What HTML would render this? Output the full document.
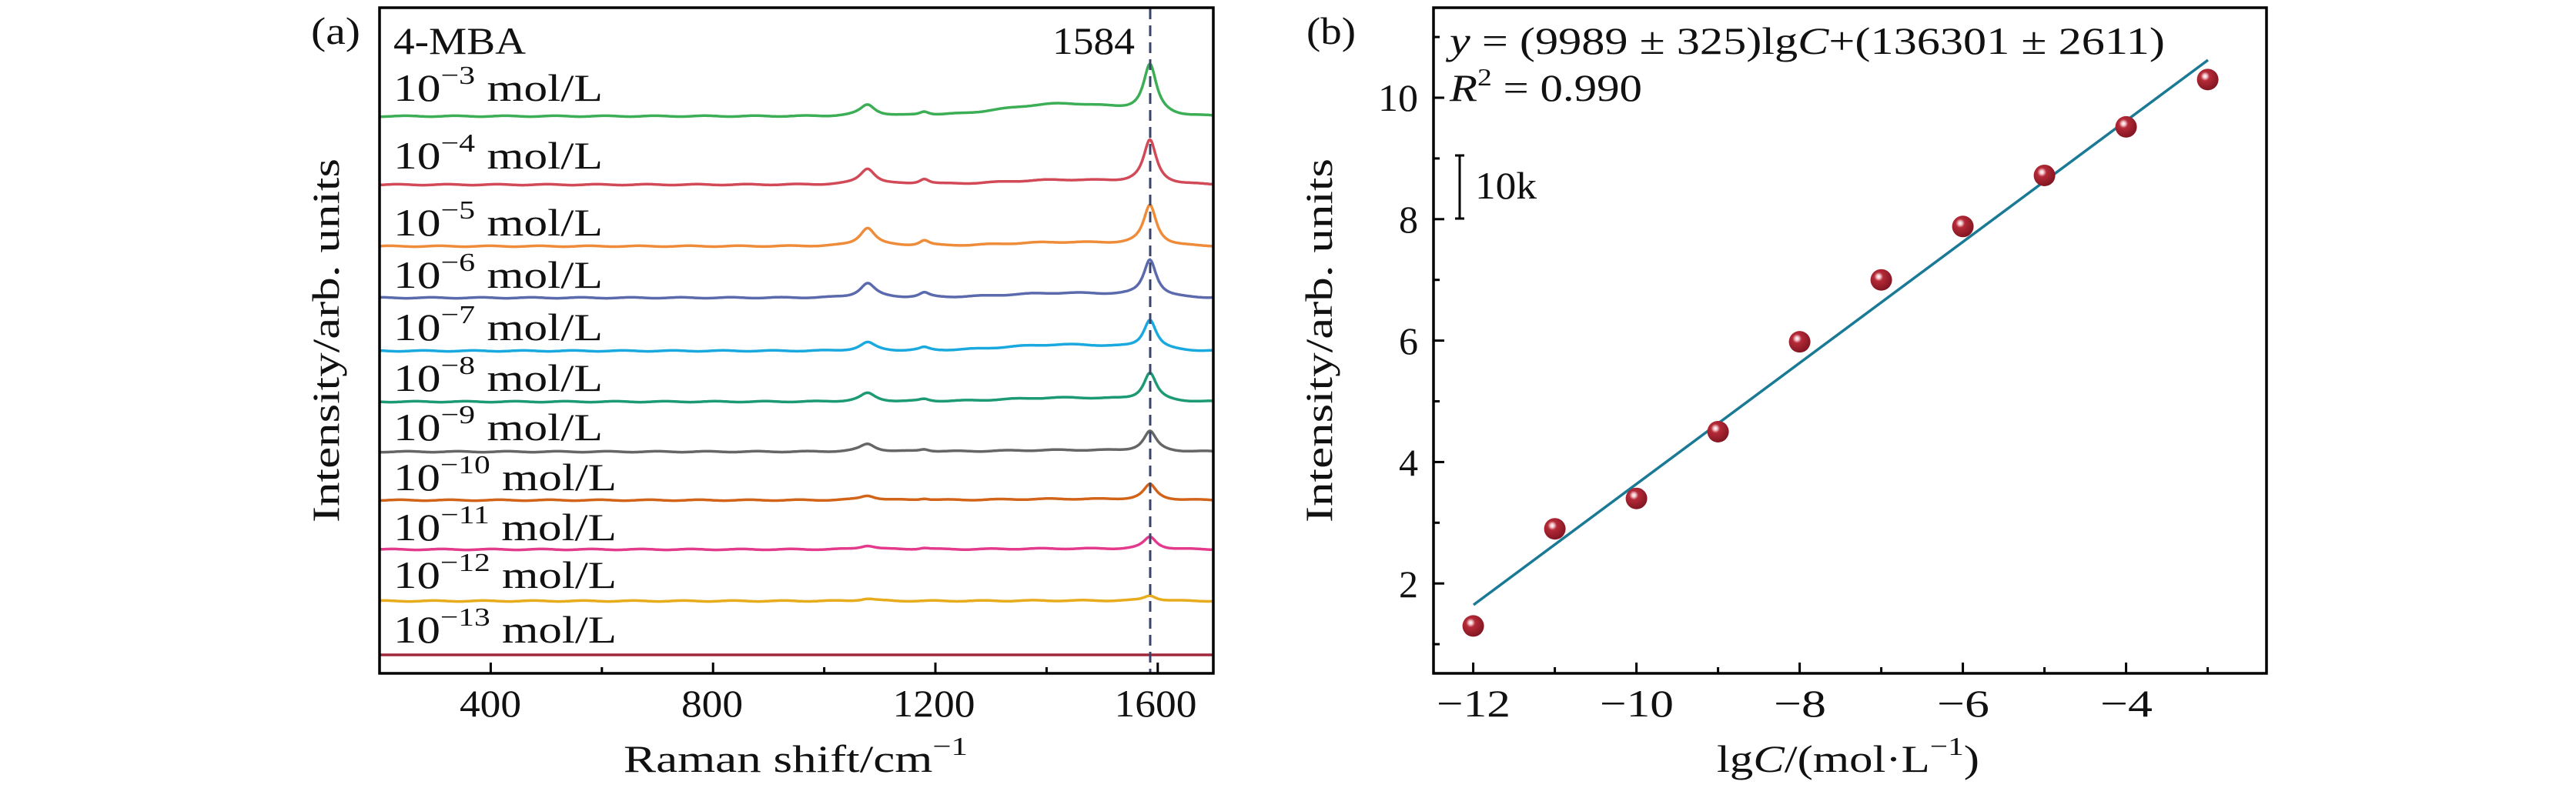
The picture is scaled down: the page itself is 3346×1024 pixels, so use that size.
<!DOCTYPE html>
<html><head><meta charset="utf-8">
<style>
html,body{margin:0;padding:0;background:#fff;}
svg{display:block;}
text{font-family:"Liberation Serif","DejaVu Serif",serif;fill:#111;}
</style></head>
<body>
<svg id="s" width="3346" height="1024" viewBox="0 0 3346 1024" xmlns="http://www.w3.org/2000/svg">
<defs>
<radialGradient id="ball" cx="0.38" cy="0.35" r="0.7">
<stop offset="0" stop-color="#ffffff"/>
<stop offset="0.12" stop-color="#f3c9cf"/>
<stop offset="0.3" stop-color="#b52a38"/>
<stop offset="1" stop-color="#7d1420"/>
</radialGradient>
</defs>
<g id="spec"></g>
<line x1="1494" y1="11" x2="1494" y2="874" stroke="#3a4468" stroke-width="3" stroke-dasharray="14,8"/>
<rect x="493" y="10" width="1083" height="865" fill="none" stroke="#000" stroke-width="3.5"/>
<g id="ticksA" stroke="#000" stroke-width="3"></g>
<g font-size="50" text-anchor="middle">
<text x="637" y="931" textLength="80" lengthAdjust="spacingAndGlyphs">400</text>
<text x="925" y="931" textLength="80" lengthAdjust="spacingAndGlyphs">800</text>
<text x="1213" y="931" textLength="107" lengthAdjust="spacingAndGlyphs">1200</text>
<text x="1501" y="931" textLength="107" lengthAdjust="spacingAndGlyphs">1600</text>
</g>
<text x="810" y="1003" font-size="50" textLength="447" lengthAdjust="spacingAndGlyphs">Raman shift/cm<tspan font-size="34" dy="-22">−1</tspan></text>
<text transform="translate(440,679) rotate(-90)" font-size="50" textLength="473" lengthAdjust="spacingAndGlyphs">Intensity/arb. units</text>
<text x="404" y="57" font-size="50" textLength="64" lengthAdjust="spacingAndGlyphs">(a)</text>
<text x="511" y="70" font-size="50" textLength="172" lengthAdjust="spacingAndGlyphs">4-MBA</text>
<text x="1367" y="70" font-size="50" textLength="107" lengthAdjust="spacingAndGlyphs">1584</text>
<g id="labs" font-size="50"></g>

<rect x="1862" y="10" width="1082" height="865" fill="none" stroke="#000" stroke-width="3.5"/>
<g id="ticksB" stroke="#000" stroke-width="3"></g>
<g font-size="50" text-anchor="middle">
<text x="1914" y="931" textLength="96" lengthAdjust="spacingAndGlyphs">−12</text>
<text x="2126" y="931" textLength="96" lengthAdjust="spacingAndGlyphs">−10</text>
<text x="2338" y="931" textLength="68" lengthAdjust="spacingAndGlyphs">−8</text>
<text x="2550" y="931" textLength="68" lengthAdjust="spacingAndGlyphs">−6</text>
<text x="2762" y="931" textLength="68" lengthAdjust="spacingAndGlyphs">−4</text>
</g>
<g font-size="50" text-anchor="end">
<text x="1842" y="144" textLength="52" lengthAdjust="spacingAndGlyphs">10</text>
<text x="1842" y="302">8</text>
<text x="1842" y="460">6</text>
<text x="1842" y="618">4</text>
<text x="1842" y="776">2</text>
</g>
<text x="2230" y="1003" font-size="50" textLength="341" lengthAdjust="spacingAndGlyphs">lg<tspan font-style="italic">C</tspan>/(mol·L<tspan font-size="34" dy="-22">−1</tspan><tspan dy="22">)</tspan></text>
<text transform="translate(1730,679) rotate(-90)" font-size="50" textLength="473" lengthAdjust="spacingAndGlyphs">Intensity/arb. units</text>
<text x="1697" y="57" font-size="50" textLength="64" lengthAdjust="spacingAndGlyphs">(b)</text>
<text x="1883" y="70" font-size="50" textLength="929" lengthAdjust="spacingAndGlyphs"><tspan font-style="italic">y</tspan> = (9989 ± 325)lg<tspan font-style="italic">C</tspan>+(136301 ± 2611)</text>
<text x="1883" y="131" font-size="50" textLength="250" lengthAdjust="spacingAndGlyphs"><tspan font-style="italic">R</tspan><tspan font-size="32" dy="-20">2</tspan><tspan dy="20"> = 0.990</tspan></text>
<g stroke="#000" stroke-width="3">
<line x1="1896" y1="201" x2="1896" y2="285"/>
<line x1="1890" y1="202" x2="1902" y2="202"/>
<line x1="1890" y1="284" x2="1902" y2="284"/>
</g>
<text x="1916" y="258" font-size="50" textLength="80" lengthAdjust="spacingAndGlyphs">10k</text>
<line x1="1914" y1="786" x2="2868" y2="78" stroke="#1a7a96" stroke-width="3.5"/>
<g id="pts"></g>
</svg>
<script>
var NS="http://www.w3.org/2000/svg";
function el(t,a,p){var e=document.createElementNS(NS,t);for(var k in a)e.setAttribute(k,a[k]);p.appendChild(e);return e;}
var tA=document.getElementById('ticksA');
function xa(v){return 493+(v-200)*0.722;}
for(var v=200;v<=1700;v+=200){var x=xa(v);var L=(v%400==0)?14:8;el('line',{x1:x,y1:875,x2:x,y2:875-L},tA);}
var S=[
["#3cae55",151,62,15,5,16],["#d24a57",240,56,21,7,6],["#ef8c3a",320,52,24,7,5],
["#5b6aad",387,48,19,6,6],["#1aa9df",456,38,11,4,8],["#1b9a74",522,36,11,3,5],
["#666666",587,26,10,3,2],["#d2641a",650,20,6,2,1.5],["#e33a8c",714,16,5,2,1],
["#e6ac1c",781,7,3,0,0.5],["#a0283a",851,0,0,0,0]];
var g=document.getElementById('spec');
function lor(x,c,w){return 1/(1+Math.pow((x-c)/w,2));}
S.forEach(function(s,i){var d="";for(var v=200;v<=1700;v+=2){
var bump=s[5]*Math.exp(-Math.pow((v-1430)/150,2))*(v<1590?1:Math.exp(-Math.pow((v-1590)/50,2)));
var y=s[1]-s[2]*lor(v,1586,14)-s[3]*lor(v,1078,17)-s[4]*lor(v,1180,11)-bump+(s[2]>0?0.6*Math.sin(v*0.07+i):0);
d+=(d?"L":"M")+xa(v).toFixed(1)+","+y.toFixed(1);}
el('path',{d:d,fill:"none",stroke:s[0],"stroke-width":3.5},g);});
var lb=document.getElementById('labs');
var ys=[131,219,306,374,442,508,572,637,702,764,835];
ys.forEach(function(y,i){var n=i+3;var t=el('text',{x:511,y:y,textLength:(n<10?272:290),lengthAdjust:"spacingAndGlyphs"},lb);t.appendChild(document.createTextNode("10"));
var s1=el('tspan',{"font-size":34,dy:-22},t);s1.textContent="−"+n;
var s2=el('tspan',{dy:22},t);s2.textContent=" mol/L";});
var tB=document.getElementById('ticksB');
function xb(v){return 1913.6+(v+12)*106;}
function yb(v){return 127+(10-v)*78.9;}
for(var v=-12;v<=-3;v++){var x=xb(v);var L=(v%2==0)?14:8;el('line',{x1:x,y1:875,x2:x,y2:875-L},tB);}
for(var v=1;v<=11;v++){var y=yb(v);var L=(v%2==0)?14:8;el('line',{x1:1862,y1:y,x2:1862+L,y2:y},tB);}
var P=[[-12,1.3],[-11,2.9],[-10,3.4],[-9,4.5],[-8,5.98],[-7,7.0],[-6,7.88],[-5,8.72],[-4,9.52],[-3,10.3]];
var pg=document.getElementById('pts');
P.forEach(function(p){el('circle',{cx:xb(p[0]),cy:yb(p[1]),r:14,fill:"url(#ball)"},pg);});
</script>
</body></html>
